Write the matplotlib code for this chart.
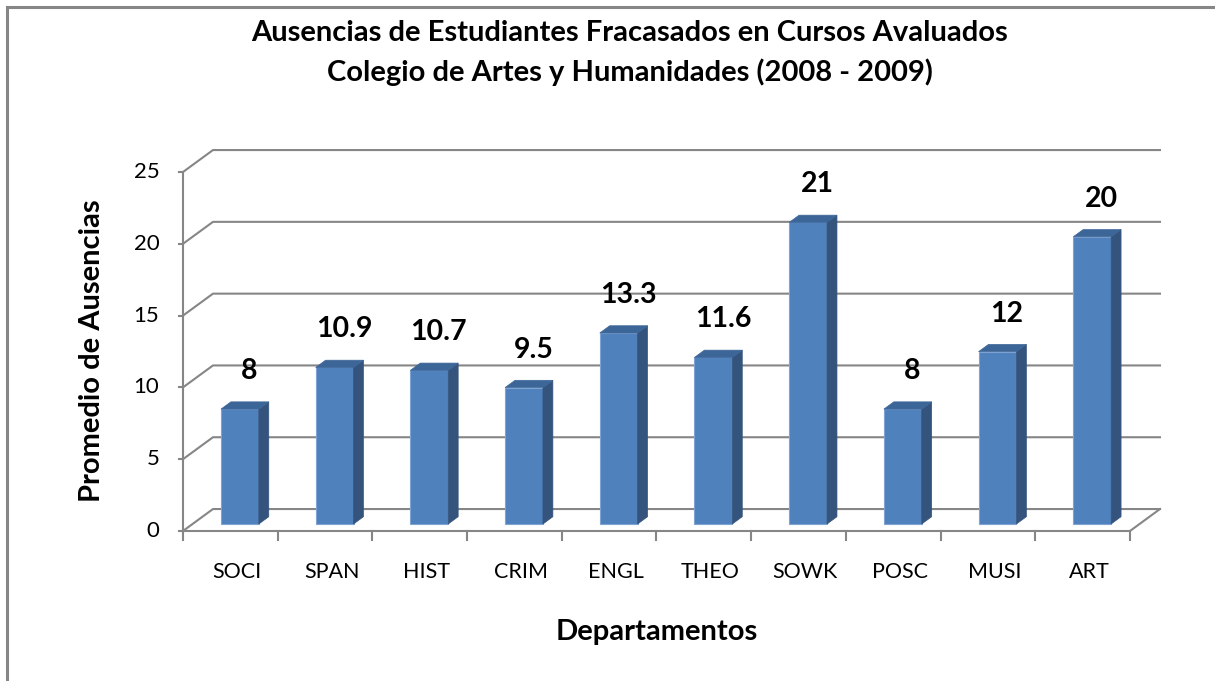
import matplotlib.pyplot as plt
from matplotlib.patches import Polygon, Rectangle

# Datos del gráfico
departamentos = ["SOCI", "SPAN", "HIST", "CRIM", "ENGL", "THEO", "SOWK", "POSC", "MUSI", "ART"]
ausencias = [8, 10.9, 10.7, 9.5, 13.3, 11.6, 21, 8, 12, 20]
etiquetas = ["8", "10.9", "10.7", "9.5", "13.3", "11.6", "21", "8", "12", "20"]
marcas_y = [0, 5, 10, 15, 20, 25]

# Aspecto 3D (profundidad en unidades de datos)
DX = 0.317   # desplazamiento horizontal de la pared del fondo
DY = 1.53    # desplazamiento vertical de la pared del fondo
D0, D1 = 0.32, 0.65   # profundidad de las barras
ANCHO = 0.40
GRIS = "#868686"
FUENTE = ["Lato", "DejaVu Sans"]


def proy(x, y, d):
    return (x + d * DX, y + d * DY)


fig = plt.figure(figsize=(12.15, 6.81), dpi=100)
ax = fig.add_axes([0, 0, 1, 1])
ax.set_xlim(-1.932, 10.898)
ax.set_ylim(-10.446, 36.98)
ax.axis("off")

n = len(departamentos)

# Borde del gráfico
fig.patches.append(Rectangle((7 / 1215, -0.1), 1.2, 1 - 7 / 681 + 0.1,
                             transform=fig.transFigure, fill=False,
                             edgecolor=GRIS, lw=2.2))

# Líneas de cuadrícula: pared izquierda y pared del fondo
for v in marcas_y:
    x0, y0 = proy(0, v, 0)
    x1, y1 = proy(0, v, 1)
    x2, y2 = proy(n, v, 1)
    ax.plot([x0, x1, x2], [y0, y1, y2], color=GRIS, lw=1.5, zorder=1)
    ax.plot([x0 - 0.04, x0], [y0, y0], color=GRIS, lw=1.5, zorder=1)
    ax.text(x0 - 0.25, v, str(v), ha="right", va="center", fontsize=16,
            family=FUENTE)

# Eje vertical y suelo
ax.plot([0, 0], [0, marcas_y[-1]], color=GRIS, lw=1.5, zorder=1)
xa, ya = proy(n, 0, 0)
xb, yb = proy(n, 0, 1)
ax.plot([0, xa, xb], [0, ya, yb], color=GRIS, lw=1.5, zorder=1)
for k in range(n + 1):
    ax.plot([k, k], [0, -0.65], color=GRIS, lw=1.5, zorder=1)

# Barras 3D
for i, v in enumerate(ausencias):
    xl = i + 0.5 - ANCHO / 2
    xr = i + 0.5 + ANCHO / 2
    frente = [proy(xl, 0, D0), proy(xr, 0, D0), proy(xr, v, D0), proy(xl, v, D0)]
    lado = [proy(xr, 0, D0), proy(xr, 0, D1), proy(xr, v, D1), proy(xr, v, D0)]
    tapa = [proy(xl, v, D0), proy(xr, v, D0), proy(xr, v, D1), proy(xl, v, D1)]
    ax.add_patch(Polygon(frente, closed=True, facecolor="#4F81BD",
                         edgecolor="#7FA3D3", lw=0.8, zorder=3))
    ax.add_patch(Polygon(lado, closed=True, facecolor="#34547D",
                         edgecolor="#34547D", lw=0.5, zorder=3))
    ax.add_patch(Polygon(tapa, closed=True, facecolor="#3D6698",
                         edgecolor="#3D6698", lw=0.5, zorder=3))
    cx, cy = proy(i + 0.5, v, D0)
    ax.text(cx + 0.1, cy + 2.65, etiquetas[i], ha="center", va="center",
            fontsize=20.5, fontweight="bold", family=FUENTE, zorder=4)
    ax.text(i + 0.57, -2.85, departamentos[i], ha="center", va="center",
            fontsize=15.5, family=FUENTE)

# Títulos
fig.text(630 / 1215, 1 - 33 / 681,
         "Ausencias de Estudiantes Fracasados en Cursos Avaluados",
         ha="center", va="center", fontsize=21, fontweight="bold", family=FUENTE)
fig.text(630 / 1215, 1 - 72 / 681,
         "Colegio de Artes y Humanidades (2008 - 2009)",
         ha="center", va="center", fontsize=21, fontweight="bold", family=FUENTE)
fig.text(657 / 1215, 1 - 632 / 681, "Departamentos", ha="center", va="center",
         fontsize=21, fontweight="bold", family=FUENTE)
fig.text(92 / 1215, 1 - 351 / 681, "Promedio de Ausencias", ha="center",
         va="center", rotation=90, fontsize=21, fontweight="bold", family=FUENTE)

fig.savefig("out.png", dpi=100)
